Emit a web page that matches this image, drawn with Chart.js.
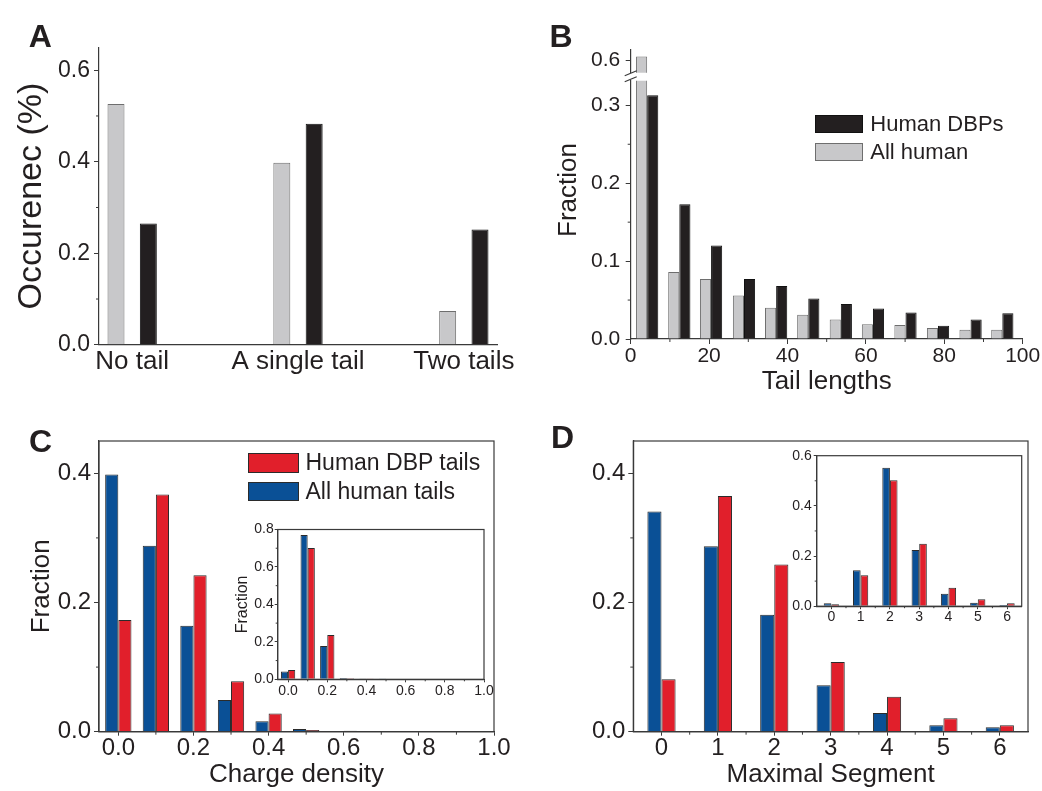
<!DOCTYPE html>
<html>
<head>
<meta charset="utf-8">
<title>Protein tails</title>
<script src="https://cdn.jsdelivr.net/npm/chart.js@4.4.1/dist/chart.umd.min.js"></script>
<style>
  html, body { margin: 0; padding: 0; background: #fff; }
  #figure { position: relative; width: 1042px; height: 791px; overflow: hidden;
            font-family: "Liberation Sans", Arial, sans-serif; color: #231f20; }
  #figure canvas { position: absolute; }
  .panel-letter { position: absolute; font-weight: bold; font-size: 32px; line-height: 32px; }
  .legend-box { position: absolute; box-sizing: border-box; border: 1px solid #333; }
  .legend-text { position: absolute; white-space: nowrap; }
  .axis-title { position: absolute; text-align: center; white-space: nowrap; transform: rotate(-90deg); }
</style>
</head>
<body>
<div id="figure">
  <canvas id="chartA"></canvas>
  <canvas id="chartBTop"></canvas>
  <canvas id="chartB"></canvas>
  <canvas id="chartC"></canvas>
  <canvas id="chartCInset"></canvas>
  <canvas id="chartD"></canvas>
  <canvas id="chartDInset"></canvas>
  <div id="overlay"></div>
</div>
<script>
// --- data ---

// A: number of disordered tails
var tailLabels = ['No tail', 'A single tail', 'Two tails'];
var tailPos = [1, 2, 3];
var tailAll = [0.526, 0.398, 0.074];
var tailDBP = [0.265, 0.483, 0.252];
var occTicks = [0, 0.2, 0.4, 0.6];

// B: tail length histogram
var seriesB = ['Human DBPs', 'All human'];
var lenBins = [4.2, 12.4, 20.5, 28.9, 37.1, 45.3, 53.6, 61.8, 70.1, 78.4, 86.7, 94.8];
var lenDBP = [0.313, 0.173, 0.120, 0.077, 0.068, 0.052, 0.045, 0.039, 0.034, 0.017, 0.025, 0.033];
var lenAll = [0.605, 0.086, 0.077, 0.056, 0.040, 0.031, 0.025, 0.019, 0.018, 0.014, 0.012, 0.012];
var lenTicks = [0, 20, 40, 60, 80, 100];
var fracTicksB = [0, 0.1, 0.2, 0.3];
var fracTicksBTop = [0.6];

// C: charge density of tails
var seriesCD = ['Human DBP tails', 'All human tails'];
var chargeBins = [0, 0.1, 0.2, 0.3, 0.4, 0.5, 0.6, 0.7];
var chargeAll = [0.398, 0.288, 0.164, 0.049, 0.016, 0.004, 0.0012, 0.0006];
var chargeDBP = [0.173, 0.367, 0.242, 0.078, 0.028, 0.0025, 0.0015, 0];
var chargeAllInset = [0.041, 0.771, 0.178, 0.007, 0.002, 0.001, 0, 0];
var chargeDBPInset = [0.050, 0.701, 0.237, 0.006, 0.001, 0, 0, 0];
var chargeTicks = [0, 0.2, 0.4, 0.6, 0.8, 1.0];
var insetTicksC = [0, 0.2, 0.4, 0.6, 0.8];

// D: maximal segment
var segLabels = ['0', '1', '2', '3', '4', '5', '6'];
var segAll = [0.341, 0.287, 0.181, 0.072, 0.029, 0.010, 0.007];
var segDBP = [0.081, 0.365, 0.259, 0.108, 0.054, 0.021, 0.010];
var segAllInset = [0.012, 0.143, 0.552, 0.224, 0.050, 0.014, 0.005];
var segDBPInset = [0.008, 0.123, 0.502, 0.249, 0.074, 0.028, 0.012];
var fracTicksCD = [0, 0.2, 0.4];
var insetTicksD = [0, 0.2, 0.4, 0.6];

// --- styling ---
var FONT = '"Liberation Sans", Arial, sans-serif';
var TEXT = '#231f20';
var AXIS = '#3a3a3a';
var GRAY = '#c8c8ca', GRAY_EDGE = '#6e6e6e';
var BLACK = '#231f20', BLACK_EDGE = '#111111';
var BLUE = '#0a5096', RED = '#e11f2b', EDGE = '#2b2b2b';

var fmt1 = function(v) { return v.toFixed(1); };

// Short outward ticks between the labelled ones
var minorTicks = {
  id: 'minorTicks',
  afterDraw: function(chart, args, o) {
    var ctx = chart.ctx, a = chart.chartArea;
    ctx.save();
    ctx.strokeStyle = AXIS;
    ctx.lineWidth = 1;
    [['x', o.xStep], ['y', o.yStep]].forEach(function(pair) {
      var sc = chart.scales[pair[0]], step = pair[1];
      if (!sc || !step) return;
      for (var v = Math.ceil(sc.min / step - 1e-9) * step; v <= sc.max + 1e-9; v += step) {
        var major = sc.ticks.some(function(t) { return Math.abs(t.value - v) < step / 10; });
        if (major) continue;
        var p = sc.getPixelForValue(v);
        ctx.beginPath();
        if (pair[0] === 'x') { ctx.moveTo(p, a.bottom); ctx.lineTo(p, a.bottom + o.len); }
        else { ctx.moveTo(a.left, p); ctx.lineTo(a.left - o.len, p); }
        ctx.stroke();
      }
    });
    ctx.restore();
  }
};

// Closed box round the plot area (panels C, D and the insets)
var frameBox = {
  id: 'frameBox',
  afterDatasetsDraw: function(chart) {
    var a = chart.chartArea, ctx = chart.ctx;
    ctx.save();
    ctx.strokeStyle = AXIS;
    ctx.lineWidth = 1.2;
    ctx.strokeRect(a.left, a.top, a.right - a.left, a.bottom - a.top);
    ctx.restore();
  }
};

// "//" marks where the y axis of panel B is broken
var axisBreak = {
  id: 'axisBreak',
  afterDraw: function(chart) {
    var a = chart.chartArea, ctx = chart.ctx;
    ctx.save();
    ctx.strokeStyle = AXIS;
    ctx.lineWidth = 1.2;
    [0, 6].forEach(function(d) {
      ctx.beginPath();
      ctx.moveTo(a.left - 6, a.top + 1 - d);
      ctx.lineTo(a.left + 6, a.top - 4 - d);
      ctx.stroke();
    });
    ctx.restore();
  }
};

function placeCanvas(id, cv) {
  var el = document.getElementById(id);
  el.width = cv[2];
  el.height = cv[3];
  el.style.left = cv[0] + 'px';
  el.style.top = cv[1] + 'px';
  return el;
}

// cv = canvas [left, top, w, h], area = plot area [left, top, right, bottom] on the page
function frameOf(cv, area) {
  return {
    padding: { left: 0, top: area[1] - cv[1], right: cv[0] + cv[2] - area[2], bottom: 0 },
    yWidth: area[0] - cv[0],
    xHeight: cv[1] + cv[3] - area[3]
  };
}

function axis(o) {
  var ax = {
    type: o.type || 'linear',
    offset: !!o.offset,
    grid: { display: !o.hidden, offset: false, drawOnChartArea: false, drawTicks: !!o.tick,
            tickLength: o.tick || 0, color: AXIS, lineWidth: 1 },
    border: { display: !o.hidden, color: AXIS, width: 1.2 },
    ticks: { display: !o.hidden, autoSkip: false, maxRotation: 0, minRotation: 0, padding: o.pad || 0,
             color: TEXT, font: { family: FONT, size: o.font || 24, lineHeight: 1 } },
    title: { display: !!o.title, text: o.title || '', color: TEXT,
             font: { family: FONT, size: o.titleSize || 26 }, padding: o.titlePad || 0 },
    afterFit: function(scale) {
      if (scale.isHorizontal()) scale.height = o.size; else scale.width = o.size;
      scale.paddingLeft = scale.paddingRight = scale.paddingTop = scale.paddingBottom = 0;
    }
  };
  if (ax.type === 'linear') {
    ax.min = o.min;
    ax.max = o.max;
    ax.bounds = 'data';
  }
  if (o.values) {
    ax.afterBuildTicks = function(scale) {
      scale.ticks = o.values.map(function(v) { return { value: v }; });
    };
  }
  if (o.fmt) ax.ticks.callback = o.fmt;
  return ax;
}

function bars(name, values, fill, edge, cat, pct, xs) {
  return {
    label: name,
    data: xs ? values.map(function(v, i) { return { x: xs[i], y: v }; }) : values,
    backgroundColor: fill,
    borderColor: edge,
    borderWidth: 1,
    categoryPercentage: cat,
    barPercentage: pct,
    clip: 0
  };
}

function baseOptions(f, scales, minor, paddingBottom) {
  var pad = f.padding;
  if (paddingBottom) pad.bottom = paddingBottom;
  return {
    responsive: false,
    animation: false,
    events: [],
    layout: { autoPadding: false, padding: pad },
    plugins: { legend: { display: false }, tooltip: { enabled: false }, minorTicks: minor || {} },
    scales: scales
  };
}

Chart.defaults.font.family = FONT;
Chart.defaults.color = TEXT;

// --- A ---
var cvA = [0, 0, 540, 390], fA = frameOf(cvA, [99, 47.3, 497, 344.8]);
new Chart(placeCanvas('chartA', cvA), {
  type: 'bar',
  data: { datasets: [
    bars('All human', tailAll, GRAY, GRAY_EDGE, 0.39, 0.525, tailPos),
    bars('Human DBPs', tailDBP, BLACK, BLACK_EDGE, 0.39, 0.525, tailPos)
  ] },
  options: baseOptions(fA, {
    x: axis({ min: 0.8, max: 3.2, values: tailPos, size: fA.xHeight, font: 26, tick: 0, pad: 4,
              fmt: function(v) { return tailLabels[tailPos.indexOf(v)]; } }),
    y: axis({ min: 0, max: 0.65, values: occTicks, size: fA.yWidth, font: 23, tick: 5, pad: 4, fmt: fmt1,
              title: 'Occurenec (%)', titleSize: 34, titlePad: { top: 11.6, bottom: 0 } })
  }, { yStep: 0.1, len: 3 }),
  plugins: [minorTicks]
});

// --- B, upper piece above the axis break ---
var cvBt = [520, 0, 522, 78], fBt = frameOf(cvBt, [630.7, 50, 1022.7, 72.7]);
new Chart(placeCanvas('chartBTop', cvBt), {
  type: 'bar',
  data: { datasets: [
    bars(seriesB[1], lenAll, GRAY, GRAY_EDGE, 0.7, 1, lenBins),
    bars(seriesB[0], lenDBP, BLACK, BLACK_EDGE, 0.7, 1, lenBins)
  ] },
  options: baseOptions(fBt, {
    x: axis({ min: 0, max: 100, values: lenTicks, size: 0, hidden: true }),
    y: axis({ min: 0.5843, max: 0.6135, values: fracTicksBTop, size: fBt.yWidth, font: 21, tick: 5, pad: 5.5, fmt: fmt1 })
  }, {}, fBt.xHeight),
  plugins: []
});

// --- B, main piece ---
var cvB = [520, 60, 522, 340], fB = frameOf(cvB, [630.7, 80.7, 1022.7, 339]);
new Chart(placeCanvas('chartB', cvB), {
  type: 'bar',
  data: { datasets: [
    bars(seriesB[1], lenAll, GRAY, GRAY_EDGE, 0.7, 1, lenBins),
    bars(seriesB[0], lenDBP, BLACK, BLACK_EDGE, 0.7, 1, lenBins)
  ] },
  options: baseOptions(fB, {
    x: axis({ min: 0, max: 100, values: lenTicks, size: fB.xHeight, font: 21, tick: 5, pad: 2,
              title: 'Tail lengths', titleSize: 26, titlePad: { top: 0, bottom: 2.4 } }),
    y: axis({ min: 0, max: 0.3316, values: fracTicksB, size: fB.yWidth, font: 21, tick: 5, pad: 5.5, fmt: fmt1 })
  }, { xStep: 10, yStep: 0.05, len: 3 }),
  plugins: [minorTicks, axisBreak]
});

// --- C ---
var cvC = [0, 400, 540, 391], fC = frameOf(cvC, [99, 441, 494, 731.7]);
new Chart(placeCanvas('chartC', cvC), {
  type: 'bar',
  data: { datasets: [
    bars(seriesCD[1], chargeAll, BLUE, EDGE, 0.7, 1, chargeBins),
    bars(seriesCD[0], chargeDBP, RED, EDGE, 0.7, 1, chargeBins)
  ] },
  options: baseOptions(fC, {
    x: axis({ min: -0.0514, max: 1.0, values: chargeTicks, size: fC.xHeight, font: 24, tick: 4, pad: 1, fmt: fmt1,
              title: 'Charge density', titleSize: 26, titlePad: { top: 0, bottom: 0.4 } }),
    y: axis({ min: 0, max: 0.45, values: fracTicksCD, size: fC.yWidth, font: 24, tick: 5, pad: 3, fmt: fmt1,
              title: 'Fraction', titleSize: 26, titlePad: { top: 26.4, bottom: 0 } })
  }, { xStep: 0.1, yStep: 0.1, len: 3 }),
  plugins: [minorTicks, frameBox]
});

var cvCi = [200, 510, 310, 200], fCi = frameOf(cvCi, [277.7, 529.5, 484, 679.3]);
new Chart(placeCanvas('chartCInset', cvCi), {
  type: 'bar',
  data: { datasets: [
    bars(seriesCD[1], chargeAllInset, BLUE, EDGE, 0.73, 1, chargeBins),
    bars(seriesCD[0], chargeDBPInset, RED, EDGE, 0.73, 1, chargeBins)
  ] },
  options: baseOptions(fCi, {
    x: axis({ min: -0.053, max: 1.0, values: chargeTicks, size: fCi.xHeight, font: 14, tick: 3, pad: 2, fmt: fmt1 }),
    y: axis({ min: 0, max: 0.8, values: insetTicksC, size: fCi.yWidth, font: 14, tick: 3, pad: 1, fmt: fmt1,
              title: 'Fraction', titleSize: 16, titlePad: { top: 32.9, bottom: 0 } })
  }, { xStep: 0.1, yStep: 0.1, len: 2 }),
  plugins: [minorTicks, frameBox]
});

// --- D ---
var cvD = [520, 400, 522, 391], fD = frameOf(cvD, [633.3, 441, 1028, 731.7]);
new Chart(placeCanvas('chartD', cvD), {
  type: 'bar',
  data: { labels: segLabels, datasets: [
    bars(seriesCD[1], segAll, BLUE, EDGE, 0.5, 1),
    bars(seriesCD[0], segDBP, RED, EDGE, 0.5, 1)
  ] },
  options: baseOptions(fD, {
    x: axis({ type: 'category', offset: true, size: fD.xHeight, font: 24, tick: 4, pad: 1,
              title: 'Maximal Segment', titleSize: 26, titlePad: { top: 0, bottom: 0.4 } }),
    y: axis({ min: 0, max: 0.45, values: fracTicksCD, size: fD.yWidth, font: 24, tick: 5, pad: 3, fmt: fmt1 })
  }, { xStep: 0.5, yStep: 0.1, len: 3 }),
  plugins: [minorTicks, frameBox]
});

var cvDi = [740, 440, 302, 200], fDi = frameOf(cvDi, [816.7, 455.7, 1021.7, 606.2]);
new Chart(placeCanvas('chartDInset', cvDi), {
  type: 'bar',
  data: { labels: segLabels, datasets: [
    bars(seriesCD[1], segAllInset, BLUE, EDGE, 0.52, 1),
    bars(seriesCD[0], segDBPInset, RED, EDGE, 0.52, 1)
  ] },
  options: baseOptions(fDi, {
    x: axis({ type: 'category', offset: true, size: fDi.xHeight, font: 14, tick: 3, pad: 1 }),
    y: axis({ min: 0, max: 0.6, values: insetTicksD, size: fDi.yWidth, font: 14, tick: 3, pad: 2, fmt: fmt1 })
  }, { xStep: 0.5, yStep: 0.1, len: 2 }),
  plugins: [minorTicks, frameBox]
});

// --- HTML overlays: panel letters, legends, broken-axis title ---
function legendHtml(x, y, gap, boxW, boxH, size, names, fills, edges) {
  var html = '';
  names.forEach(function(name, i) {
    var top = y + i * gap;
    html += '<div class="legend-box" style="left:' + x + 'px;top:' + top + 'px;width:' + boxW +
      'px;height:' + boxH + 'px;background:' + fills[i] + ';border-color:' + edges[i] + '"></div>' +
      '<div class="legend-text" style="left:' + (x + boxW + 7) + 'px;top:' + top + 'px;line-height:' +
      boxH + 'px;font-size:' + size + 'px">' + name + '</div>';
  });
  return html;
}

var letters = [['A', 28.7, 47.3], ['B', 549.5, 46.7], ['C', 29, 452], ['D', 551, 448.3]];
var html = '';
letters.forEach(function(l) {
  html += '<div class="panel-letter" style="left:' + l[1] + 'px;top:' + (l[2] - 27.1) + 'px">' + l[0] + '</div>';
});
html += legendHtml(815, 115, 27.7, 48.3, 18.3, 22, seriesB, [BLACK, GRAY], [BLACK_EDGE, GRAY_EDGE]);
html += legendHtml(248, 453, 28.5, 50.5, 19.5, 23, seriesCD, [RED, BLUE], [EDGE, EDGE]);
html += '<div class="axis-title" style="left:506.7px;top:174px;width:120px;height:32px;line-height:32px;font-size:26px">Fraction</div>';
document.getElementById('overlay').innerHTML = html;
</script>
</body>
</html>
